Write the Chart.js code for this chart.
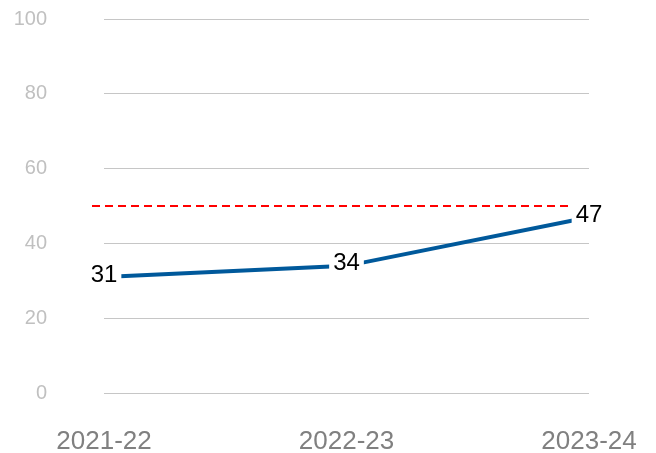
<!DOCTYPE html>
<html>
<head>
<meta charset="utf-8">
<script src="https://cdn.jsdelivr.net/npm/chart.js@4/dist/chart.umd.min.js"></script>
<style>
  html, body { margin: 0; padding: 0; background: #fff; overflow: hidden; }
  canvas { display: block; }
</style>
</head>
<body>
<canvas id="c" width="656" height="453"></canvas>
<script>
const years = ['2021-22', '2022-23', '2023-24'];
const values = [31, 34, 47];
const target = 50;
const yTicks = [0, 20, 40, 60, 80, 100];

const lineBlue = '#00599b';
const gridCol = '#c6c6c6';

/* ─── Plugins ─────────────────────────────────────────────────────────── */

// red dashed target line
const targetLine = {
    id: 'targetLine',
    beforeDatasetsDraw(chart) {
        const { ctx, scales: { x, y } } = chart;
        const py = y.getPixelForValue(target);
        ctx.save();
        ctx.strokeStyle = '#ff0000';
        ctx.lineWidth = 2;
        ctx.setLineDash([8, 5]);
        ctx.beginPath();
        ctx.moveTo(x.getPixelForValue(0) - 12, py);
        ctx.lineTo(x.getPixelForValue(years.length - 1) - 21, py);
        ctx.stroke();
        ctx.restore();
    }
};

// value labels on white boxes over the line
const valueLabels = {
    id: 'valueLabels',
    afterDatasetsDraw(chart) {
        const { ctx } = chart;
        const meta = chart.getDatasetMeta(0);
        ctx.save();
        ctx.font = '24px "Liberation Sans", Arial, sans-serif';
        ctx.textAlign = 'center';
        ctx.textBaseline = 'middle';
        meta.data.forEach((pt, i) => {
            const txt = String(values[i]);
            const w = ctx.measureText(txt).width;
            ctx.fillStyle = '#fff';
            ctx.fillRect(pt.x - w / 2 - 4, pt.y - 13, w + 8, 26);
            ctx.fillStyle = '#000';
            ctx.fillText(txt, pt.x, pt.y - 2);
        });
        ctx.restore();
    }
};

/* ─── Chart ───────────────────────────────────────────────────────────── */

new Chart(document.getElementById('c'), {
    type: 'line',
    data: {
        labels: years,
        datasets: [{
            data: values,
            borderColor: lineBlue,
            borderWidth: 4,
            pointRadius: 0,
            tension: 0,
            fill: false
        }]
    },
    options: {
        responsive: false,
        animation: false,
        layout: { padding: { top: 19, right: 67, left: 0, bottom: 0 } },
        plugins: { legend: { display: false }, tooltip: { enabled: false } },
        scales: {
            x: {
                offset: false,
                grid: { display: false, drawTicks: false },
                border: { display: false },
                ticks: {
                    color: '#808080',
                    font: { family: '"Liberation Sans", Arial, sans-serif', size: 26 },
                    padding: 33,
                    maxRotation: 0,
                    autoSkip: false
                },
                afterFit(s) { s.height = 60; s.paddingLeft = 0; s.paddingRight = 0; }
            },
            y: {
                min: 0,
                max: 100,
                afterBuildTicks(s) { s.ticks = yTicks.map(v => ({ value: v })); },
                grid: { color: gridCol, lineWidth: 1, drawTicks: false },
                border: { display: false },
                ticks: {
                    color: '#c0c0c0',
                    font: { family: '"Liberation Sans", Arial, sans-serif', size: 20 },
                    padding: 57
                },
                afterFit(s) { s.width = 104; s.paddingTop = 0; s.paddingBottom = 0; }
            }
        }
    },
    plugins: [targetLine, valueLabels]
});
</script>
</body>
</html>
